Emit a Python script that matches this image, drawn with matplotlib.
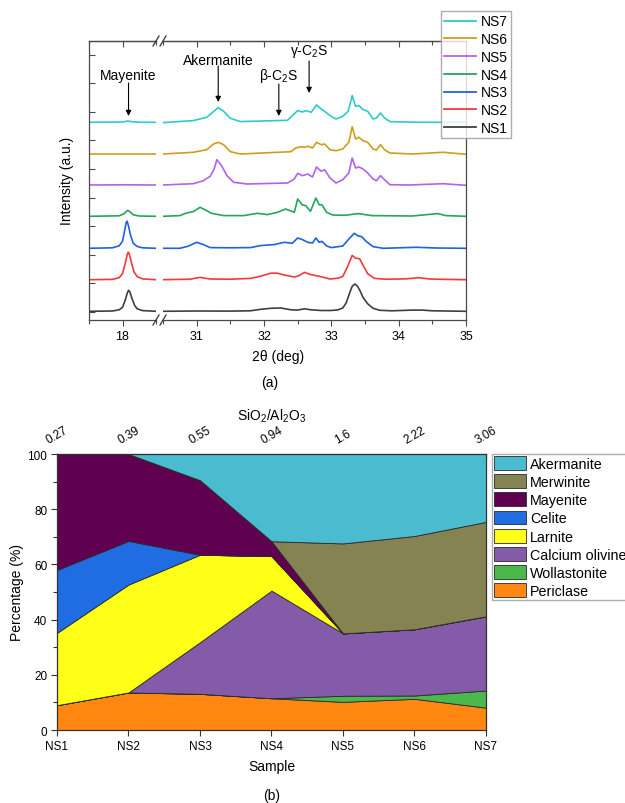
import numpy as np
import matplotlib
matplotlib.use('Agg')
import matplotlib.pyplot as plt
from matplotlib.lines import Line2D

plt.rcParams['font.family'] = ['Liberation Sans', 'DejaVu Sans']
plt.rcParams['mathtext.fontset'] = 'custom'
plt.rcParams['mathtext.rm'] = 'Liberation Sans'
plt.rcParams['mathtext.it'] = 'Liberation Sans:italic'
plt.rcParams['mathtext.bf'] = 'Liberation Sans:bold'

# ---------------- Panel (a): XRD patterns ----------------
samples = ['NS1', 'NS2', 'NS3', 'NS4', 'NS5', 'NS6', 'NS7']
xrd_colors = ['#3f3f3f', '#f23a3a', '#1f62e0', '#25a55e', '#b363e6', '#d29c1c', '#2ccccc']
offsets = [8.7, 40.3, 71.7, 103.7, 135.0, 166.0, 197.7]

ns1_2theta = [17.5, 17.85, 17.95, 18.0, 18.04, 18.07, 18.09, 18.11, 18.14, 18.18, 18.22, 18.3, 18.5,
              30.5, 31.0, 31.5, 31.8, 31.95, 32.1, 32.25, 32.4, 32.5, 32.6, 32.7, 32.85, 33.0, 33.1, 33.17,
              33.22, 33.27, 33.31, 33.35, 33.39, 33.43, 33.47, 33.54, 33.62, 33.72, 33.9, 34.2, 34.35, 34.5, 35.0]
ns1_int = [0, 0.3, 1.5, 4, 11, 18, 21, 19.5, 13, 6, 2.5, 0.7, 0,
           0, 0.3, 0.2, 0.5, 2, 3, 3.3, 1.5, 1.2, 2.5, 1.5, 0.8, 0.8, 1.5, 3.3,
           8.3, 18, 25, 27.3, 25, 20, 14, 7.5, 3, 1, 0.5, 1.2, 1.2, 0.5, 0]

ns2_2theta = [17.5, 17.85, 17.95, 18.0, 18.04, 18.07, 18.085, 18.1, 18.13, 18.17, 18.22, 18.3, 18.5,
              30.5, 30.9, 31.05, 31.2, 31.5, 31.8, 31.95, 32.1, 32.2, 32.3, 32.45, 32.52, 32.6, 32.7, 32.83,
              32.98, 33.1, 33.17, 33.22, 33.26, 33.31, 33.36, 33.42, 33.47, 33.54, 33.64, 33.8, 34.1, 34.3,
              34.46, 34.7, 35.0]
ns2_int = [0, 0.3, 2, 6, 16, 25, 27.5, 26, 18, 8, 3, 0.8, 0,
           0, 0.5, 2.3, 0.7, 0.5, 1.3, 3.5, 6.5, 6.5, 4.7, 2.7, 4, 7.3, 5, 3.3,
           0.7, 1.5, 3.3, 10, 16, 24.3, 21.5, 21, 14.5, 6, 1.3, 0.5, 0.8, 2,
           0.7, 0.3, 0]

ns3_2theta = [17.5, 17.85, 17.95, 18.0, 18.03, 18.055, 18.07, 18.09, 18.12, 18.16, 18.22, 18.3, 18.5,
              30.5, 30.75, 30.87, 31.0, 31.1, 31.2, 31.5, 31.8, 31.95, 32.15, 32.3, 32.42, 32.5, 32.57,
              32.65, 32.72, 32.77, 32.82, 32.86, 32.93, 33.0, 33.17, 33.27, 33.34, 33.4, 33.45, 33.52,
              33.62, 33.77, 34.26, 34.56, 35.0]
ns3_int = [0, 0.5, 2.5, 7, 17, 26, 27, 22, 13, 5, 1.8, 0.5, 0,
           0, 0, 2, 6, 3.7, 0.7, 0.5, 0.7, 2.7, 3.7, 6, 5, 10.3, 8.7,
           6, 5.3, 10.3, 6, 7, 2.3, 0.7, 2.3, 10, 15, 12.3, 11.7, 6.7,
           1.7, 0, 1, 0.3, 0]

ns4_2theta = [17.5, 17.95, 18.02, 18.06, 18.08, 18.11, 18.16, 18.25, 18.5,
              30.5, 30.75, 30.85, 30.95, 31.05, 31.15, 31.22, 31.4, 31.7, 31.9, 32.05, 32.2, 32.32, 32.45,
              32.5, 32.57, 32.62, 32.69, 32.77, 32.82, 32.86, 32.93, 33.02, 33.2, 33.4, 33.6, 34.2, 34.58,
              34.7, 35.0]
ns4_int = [0, 0.5, 2.5, 5, 6, 4.5, 1.5, 0.3, 0,
           0, 0.7, 3.3, 4.7, 9, 5.7, 3, 0.7, 0.7, 3, 1.7, 4, 7.3, 4,
           17.3, 11.3, 10.7, 5, 18.3, 11.5, 11.5, 4, 1.3, 1, 2.7, 0.7, 0.3, 2.7,
           0.7, 0]

ns5_2theta = [17.5, 18.0, 18.5,
              30.5, 30.95, 31.1, 31.2, 31.26, 31.3, 31.37, 31.45, 31.55, 31.75, 32.35, 32.45, 32.5, 32.57,
              32.65, 32.72, 32.78, 32.85, 32.9, 32.98, 33.07, 33.17, 33.26, 33.31, 33.36, 33.41, 33.47,
              33.54, 33.62, 33.67, 33.73, 33.79, 33.87, 34.16, 34.66, 35.0]
ns5_int = [0, 0.2, 0,
           0, 1.3, 4.3, 8.7, 16, 25.3, 19.3, 9.3, 2.7, 1, 2, 6, 11.7, 9.3,
           11, 8, 18, 13.7, 15.3, 7, 2, 5.3, 12, 27, 17, 18, 16,
           12, 6, 4.3, 9.3, 5.3, 0.3, 0, 1.3, -0.3]

ns6_2theta = [17.5, 18.5,
              30.5, 30.95, 31.15, 31.25, 31.32, 31.4, 31.5, 31.65, 32.4, 32.47, 32.55, 32.6, 32.65, 32.72,
              32.78, 32.85, 32.9, 32.98, 33.07, 33.17, 33.26, 33.31, 33.36, 33.41, 33.47, 33.54, 33.62,
              33.67, 33.73, 33.79, 33.87, 34.2, 34.66, 35.0]
ns6_int = [0, 0,
           0, 1.7, 4.3, 10, 11.7, 9.3, 2.3, 0, 2.3, 6, 7.3, 6.7, 7.7, 6,
           11.7, 9.3, 10, 4.3, 3.3, 5, 11.7, 27.3, 15, 16.7, 13.3, 11.7, 5,
           4, 9.3, 4.3, 1, 0, 1.7, -0.3]

ns7_2theta = [17.5, 18.0, 18.08, 18.15, 18.3, 18.5,
              30.5, 30.95, 31.15, 31.25, 31.32, 31.4, 31.5, 31.65, 32.35, 32.42, 32.5, 32.57, 32.62, 32.7,
              32.78, 32.85, 32.9, 32.98, 33.07, 33.17, 33.25, 33.31, 33.36, 33.41, 33.47, 33.54, 33.62,
              33.67, 33.73, 33.79, 33.87, 34.3, 35.0]
ns7_int = [0, 0.3, 1.3, 0.5, 0, 0,
           -0.3, 1.7, 5, 10.7, 14.7, 11, 4, 0.7, 2, 6.7, 11.7, 10.3, 11.7, 10,
           17.3, 13.3, 11, 6.7, 3.3, 6, 11, 26.7, 16, 16.7, 12.7, 11, 3.3,
           4.3, 9.3, 4.3, 0.7, 0, 0]

xrd_2theta = [ns1_2theta, ns2_2theta, ns3_2theta, ns4_2theta, ns5_2theta, ns6_2theta, ns7_2theta]
xrd_int = [ns1_int, ns2_int, ns3_int, ns4_int, ns5_int, ns6_int, ns7_int]

# ---------------- Panel (b): phase percentages ----------------
ratio_labels = ['0.27', '0.39', '0.55', '0.94', '1.6', '2.22', '3.06']
periclase = [9.0, 13.6, 13.1, 11.5, 10.2, 11.3, 8.1]
wollastonite = [0, 0, 0, 0, 2.2, 1.2, 6.2]
calcium_olivine = [0, 0, 18.7, 39.0, 22.6, 24.0, 26.9]
larnite = [26.2, 39.1, 31.7, 12.5, 0, 0, 0]
celite = [22.8, 15.8, 0, 0, 0, 0, 0]
mayenite = [42.0, 31.5, 27.0, 5.4, 0, 0, 0]
merwinite = [0, 0, 0, 0, 32.6, 33.8, 34.2]
akermanite = [0, 0, 9.5, 31.6, 32.4, 29.7, 24.6]
phase_names = ['Periclase', 'Wollastonite', 'Calcium olivine', 'Larnite', 'Celite',
               'Mayenite', 'Merwinite', 'Akermanite']
phase_colors = ['#ff8712', '#4bb84b', '#845ba8', '#ffff17', '#206ce2',
                '#600050', '#858351', '#4bbccf']

# ---------------- Figure ----------------
W, H = 625, 804
fig = plt.figure(figsize=(W / 100, H / 100), dpi=100)


def fx(px):
    return px / W


def fy(py):
    return 1 - py / H


spine_col = '#4a4a4a'

a_top, a_bot = 42, 321
axL = fig.add_axes([fx(89), fy(a_bot), fx(156) - fx(89), (a_bot - a_top) / H])
axR = fig.add_axes([fx(163), fy(a_bot), fx(466) - fx(163), (a_bot - a_top) / H])

for tt, inten, off, col in zip(xrd_2theta, xrd_int, offsets, xrd_colors):
    y = np.asarray(inten) + off
    axL.plot(tt, y, color=col, lw=1.2)
    axR.plot(tt, y, color=col, lw=1.2)

for ax in (axL, axR):
    ax.set_ylim(0, a_bot - a_top)
    for sp in ax.spines.values():
        sp.set_color(spine_col)
        sp.set_linewidth(0.9)
    ax.tick_params(axis='x', which='both', direction='out', top=False, labelsize=9,
                   color=spine_col, width=0.8, pad=3)
    ax.tick_params(axis='x', which='major', length=4)
    ax.tick_params(axis='x', which='minor', length=3)

axL.set_xlim(17.5, 18.5)
axR.set_xlim(30.5, 35)
axL.spines['right'].set_visible(False)
axR.spines['left'].set_visible(False)
axL.set_xticks([18])
axL.set_xticks([17.5, 18.5], minor=True)
axR.set_xticks([31, 32, 33, 34, 35])
axR.set_xticks([30.5, 31.5, 32.5, 33.5, 34.5], minor=True)
axL.set_yticks(np.arange(8, a_bot - a_top, 28.6))
axL.tick_params(axis='y', direction='in', length=4, labelleft=False, color=spine_col, width=0.8)
axR.tick_params(axis='y', left=False, labelleft=False)

for ax, maj, mnr in ((axL, [18], [17.5, 18.5]),
                     (axR, [31, 32, 33, 34, 35], [30.5, 31.5, 32.5, 33.5, 34.5])):
    sec = ax.secondary_xaxis('top')
    sec.set_xticks(maj)
    sec.set_xticks(mnr, minor=True)
    sec.tick_params(axis='x', which='both', direction='in', labeltop=False,
                    color=spine_col, width=0.8)
    sec.tick_params(axis='x', which='major', length=4)
    sec.tick_params(axis='x', which='minor', length=3)
    sec.spines['top'].set_color(spine_col)
    sec.spines['top'].set_linewidth(0.9)

# break marks
for bx in (156, 163):
    for by in (a_top, a_bot):
        fig.add_artist(Line2D([fx(bx - 3), fx(bx + 3)], [fy(by + 5), fy(by - 5)],
                              transform=fig.transFigure, color='#333333', lw=0.9))

# annotations
arrow_kw = dict(arrowstyle='-|>', color='black', lw=0.8, mutation_scale=8, shrinkA=0, shrinkB=0)
yd = lambda py: a_bot - py
axL.text(18.09, yd(76), 'Mayenite', ha='center', va='center', fontsize=10, clip_on=False)
axL.annotate('', xy=(18.09, yd(117)), xytext=(18.09, yd(84)), arrowprops=arrow_kw)
axR.text(31.32, yd(61), 'Akermanite', ha='center', va='center', fontsize=10)
axR.annotate('', xy=(31.32, yd(103)), xytext=(31.32, yd(67)), arrowprops=arrow_kw)
axR.text(32.22, yd(76), r'β-C$_2$S', ha='center', va='center', fontsize=10)
axR.annotate('', xy=(32.22, yd(117)), xytext=(32.22, yd(85)), arrowprops=arrow_kw)
axR.text(32.67, yd(51), r'γ-C$_2$S', ha='center', va='center', fontsize=10)
axR.annotate('', xy=(32.67, yd(94)), xytext=(32.67, yd(62)), arrowprops=arrow_kw)

# legend (a)
handles = [Line2D([], [], color=c, lw=1.3) for c in xrd_colors][::-1]
leg = fig.legend(handles, samples[::-1], loc='upper left', bbox_to_anchor=(fx(441), fy(12)),
                 bbox_transform=fig.transFigure, borderaxespad=0, fontsize=10,
                 frameon=True, fancybox=False, edgecolor='#999999', handlelength=2.3,
                 handletextpad=0.3, labelspacing=0.27, borderpad=0.25)
leg.get_frame().set_linewidth(1.0)

fig.text(fx(67), fy(181), 'Intensity (a.u.)', rotation=90, ha='center', va='center', fontsize=10)
fig.text(fx(278), fy(357), '2θ (deg)', ha='center', va='center', fontsize=10)
fig.text(fx(270), fy(383), '(a)', ha='center', va='center', fontsize=10)

# ---------------- Panel (b) ----------------
b_top, b_bot = 455, 731
axB = fig.add_axes([fx(57), fy(b_bot), fx(486) - fx(57), (b_bot - b_top) / H])
xpos = np.arange(len(samples))
polys = axB.stackplot(xpos, periclase, wollastonite, calcium_olivine, larnite, celite,
                      mayenite, merwinite, akermanite, labels=phase_names, colors=phase_colors,
                      edgecolor='#2a2a2a', linewidth=0.6)
axB.set_xlim(0, len(samples) - 1)
axB.set_ylim(0, 100)
axB.set_xticks(xpos)
axB.set_xticklabels(samples)
axB.set_yticks([0, 20, 40, 60, 80, 100])
axB.set_yticks([10, 30, 50, 70, 90], minor=True)
for sp in axB.spines.values():
    sp.set_color('#333333')
    sp.set_linewidth(0.9)
axB.tick_params(axis='both', which='both', direction='out', labelsize=8.5, color='#333333', width=0.8)
axB.tick_params(axis='both', which='major', length=4, pad=3)
axB.tick_params(axis='both', which='minor', length=3)

secB = axB.secondary_xaxis('top')
secB.set_xticks(xpos)
secB.set_xticklabels(ratio_labels, rotation=30)
secB.tick_params(axis='x', direction='in', length=4, labelsize=8.5, pad=6, color='#333333', width=0.8)
secB.spines['top'].set_color('#333333')

legB = fig.legend(polys[::-1], phase_names[::-1], loc='upper left',
                  bbox_to_anchor=(fx(491.5), fy(455)), bbox_transform=fig.transFigure,
                  borderaxespad=0, fontsize=10.3, frameon=True, fancybox=False,
                  edgecolor='#999999', handlelength=2.25, handleheight=1.1,
                  handletextpad=0.3, labelspacing=0.24, borderpad=0.15)
legB.get_frame().set_linewidth(1.0)

fig.text(fx(17), fy(593), 'Percentage (%)', rotation=90, ha='center', va='center', fontsize=10)
fig.text(fx(272), fy(416), r'SiO$_2$/Al$_2$O$_3$', ha='center', va='center', fontsize=10)
fig.text(fx(272), fy(767), 'Sample', ha='center', va='center', fontsize=10)
fig.text(fx(272), fy(796), '(b)', ha='center', va='center', fontsize=10)

fig.savefig('out.png', dpi=100)
